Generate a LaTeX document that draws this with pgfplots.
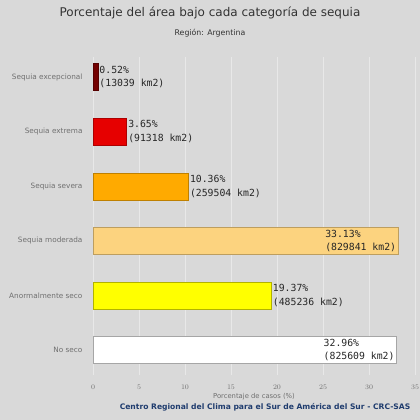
\documentclass[border=0pt]{standalone}
\usepackage{pgfplots}
\pgfplotsset{compat=1.18}
\usepackage{fontspec}
\setmainfont{DejaVu Sans}
\newfontfamily\monofont{DejaVu Sans Mono}
\definecolor{bg}{HTML}{D9D9D9}
\definecolor{cexc}{HTML}{730000}
\definecolor{cext}{HTML}{E60000}
\definecolor{csev}{HTML}{FFAA00}
\definecolor{cmod}{HTML}{FCD37F}
\definecolor{canor}{HTML}{FFFF00}
\definecolor{ctxt}{HTML}{333333}
\definecolor{cgray}{HTML}{707070}
\definecolor{cfoot}{HTML}{1F3C6E}
\begin{document}
\begin{tikzpicture}[x=1pt,y=1pt]
\fill[bg] (0,0) rectangle (420,420);
\path[use as bounding box] (0,0) rectangle (420,420);
\node[text=ctxt,font=\fontsize{12}{14}\selectfont] at (210,407) {Porcentaje del área bajo cada categoría de sequia};
\node[text=ctxt,font=\fontsize{7.8}{9}\selectfont] at (210,387) {Región: Argentina};
\begin{axis}[
  at={(93pt,45pt)}, anchor=south west,
  scale only axis, width=322pt, height=318pt,
  xmin=0, xmax=35, ymin=-0.46, ymax=5.37,
  xbar, bar width=27pt, bar shift=0pt,
  axis line style={draw=none},
  major tick length=0pt,
  xtick={0,5,...,35},
  ytick={0,1,2,3,4,5},
  yticklabels={No seco,Anormalmente seco,Sequia moderada,Sequia severa,Sequia extrema,Sequia excepcional},
  xmajorgrids, grid style={white!40!bg, line width=0.8pt},
  xticklabel style={anchor=center, yshift=-12.5pt, text=cgray, font=\fontsize{7}{8}\selectfont},
  yticklabel style={anchor=east, xshift=-7pt, text=cgray, font=\fontsize{7.3}{8}\selectfont},
  xlabel={Porcentaje de casos (\%)},
  xlabel style={at={(axis description cs:0.5,0)}, anchor=center, yshift=-22pt, text=cgray, font=\fontsize{6.8}{8}\selectfont},
  nodes near coords,
  every node near coord/.append style={font=\monofont\fontsize{9.8}{13.5}\selectfont, text=black!85, align=left, anchor=west, inner sep=1.5pt},
  axis background/.style={fill=bg},
]
\addplot[fill=white, draw=black!35, nodes near coords={32.96\%\\(825609 km2)}, every node near coord/.append style={anchor=east}] coordinates {(32.96,0)};
\addplot[fill=canor, draw=canor!70!black, nodes near coords={19.37\%\\(485236 km2)}] coordinates {(19.37,1)};
\addplot[fill=cmod, draw=cmod!75!black, nodes near coords={33.13\%\\(829841 km2)}, every node near coord/.append style={anchor=east}] coordinates {(33.13,2)};
\addplot[fill=csev, draw=csev!75!black, nodes near coords={10.36\%\\(259504 km2)}] coordinates {(10.36,3)};
\addplot[fill=cext, draw=cext!75!black, nodes near coords={3.65\%\\(91318 km2)}] coordinates {(3.65,4)};
\addplot[fill=cexc, draw=cexc!75!black, nodes near coords={0.52\%\\(13039 km2)}] coordinates {(0.52,5)};
\end{axis}
\node[text=cfoot,font=\bfseries\fontsize{7.6}{9}\selectfont] at (265,12.5) {Centro Regional del Clima para el Sur de América del Sur - CRC-SAS};
\end{tikzpicture}
\end{document}
